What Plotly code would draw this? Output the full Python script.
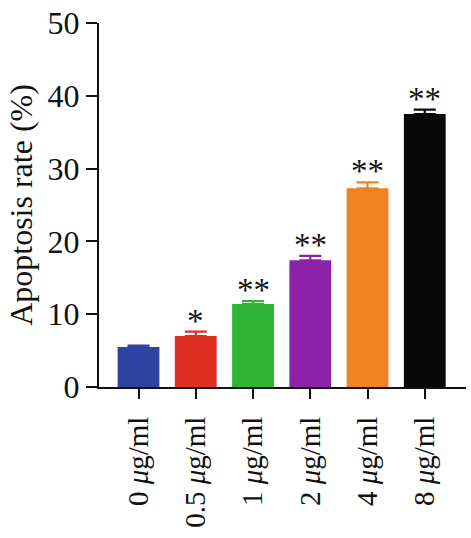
import plotly.graph_objects as go

categories = ["0 <i>μ</i>g/ml", "0.5 <i>μ</i>g/ml", "1 <i>μ</i>g/ml", "2 <i>μ</i>g/ml", "4 <i>μ</i>g/ml", "8 <i>μ</i>g/ml"]
values = [5.5, 7.0, 11.4, 17.4, 27.3, 37.5]
errors = [0.2, 0.6, 0.4, 0.6, 0.8, 0.6]
stars = ["", "*", "**", "**", "**", "**"]
colors = ["#2D44A0", "#E03026", "#2DB533", "#8C22AA", "#F2821F", "#080808"]
y_ticks = [0, 10, 20, 30, 40, 50]
y_title = "Apoptosis rate (%)"

FONT = "Liberation Serif"

fig = go.Figure()
fig.add_trace(go.Bar(
    x=list(range(len(categories))), y=values,
    marker=dict(color=colors, line=dict(width=0)),
    width=0.73,
    showlegend=False,
))
for i, (v, e, c) in enumerate(zip(values, errors, colors)):
    fig.add_trace(go.Scatter(
        x=[i], y=[v], mode="markers", marker=dict(size=0.1, color=c, opacity=0),
        error_y=dict(type="data", array=[e], arrayminus=[0], symmetric=False,
                     color=c, thickness=2.2, width=11),
        showlegend=False, hoverinfo="skip",
    ))

for i, (v, e, s) in enumerate(zip(values, errors, stars)):
    if s:
        fig.add_annotation(x=i, y=v + e, text=s, showarrow=False, yanchor="bottom",
                           yshift=-9, font=dict(family=FONT, size=33, color="#111111"))

fig.add_annotation(xref="paper", yref="paper", x=-0.213, y=0.5, text=y_title,
                   textangle=-90, showarrow=False, xanchor="center", yanchor="middle",
                   font=dict(family=FONT, size=32, color="#111111"))

fig.update_layout(
    width=471, height=538,
    margin=dict(l=99, r=5, t=16, b=151),
    plot_bgcolor="white", paper_bgcolor="white",
    font=dict(family=FONT, size=29, color="#111111"),
)
fig.update_xaxes(
    range=[-0.69, 5.72],
    tickmode="array", tickvals=list(range(len(categories))), ticktext=categories,
    tickangle=-90, ticks="outside", ticklen=10, tickwidth=2, tickcolor="#111111",
    showline=True, linecolor="#111111", linewidth=2, showgrid=False, zeroline=False,
    tickfont=dict(family=FONT, size=29), ticklabelstandoff=6,
)
fig.update_yaxes(
    range=[0, 50], tickvals=y_ticks, ticks="outside", ticklen=11, tickwidth=2,
    tickcolor="#111111", showline=True, linecolor="#111111", linewidth=2,
    showgrid=False, zeroline=False, ticklabeloverflow="allow",
    tickfont=dict(family=FONT, size=32),
)

fig.write_html("out.html")
